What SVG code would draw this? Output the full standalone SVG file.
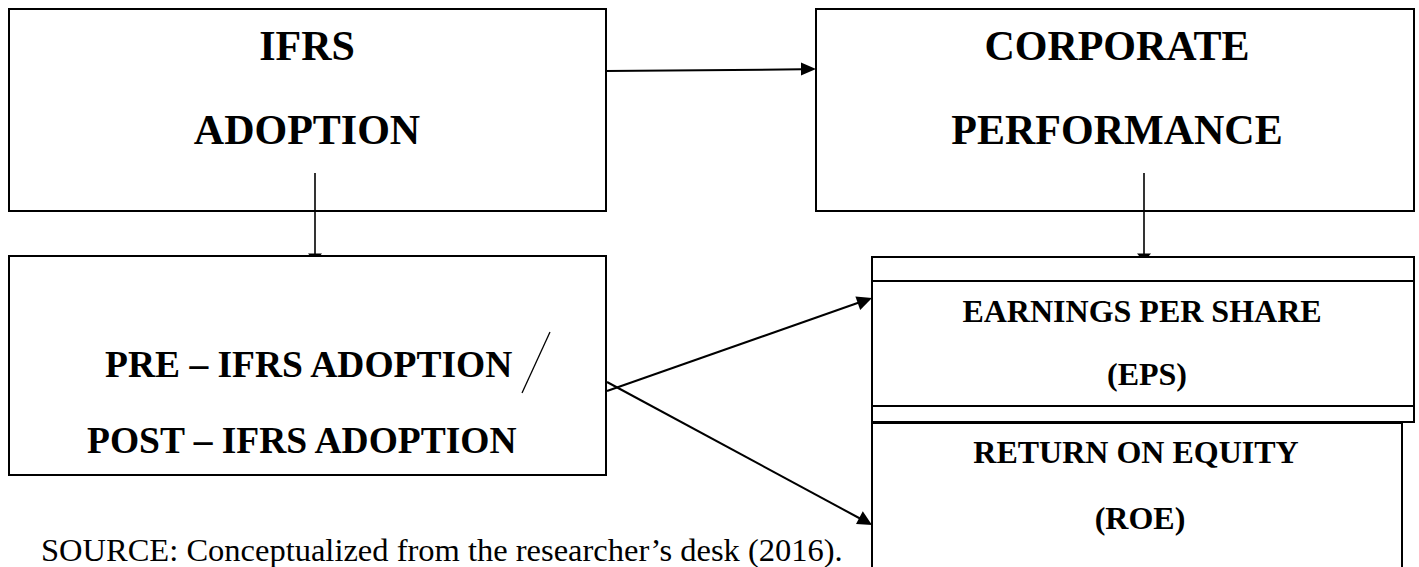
<svg xmlns="http://www.w3.org/2000/svg" width="1419" height="567" viewBox="0 0 1419 567">
<defs>
<style>
.box{fill:#fff;stroke:#000;stroke-width:2}
.edge{stroke:#000;stroke-width:2;fill:none}
.thin{stroke:#000;stroke-width:1.6;fill:none}
.head{fill:#000;stroke:none}
.t42{font-family:"Liberation Serif","Times New Roman",serif;font-weight:bold;font-size:42px;text-anchor:middle;fill:#000}
.t38{font-family:"Liberation Serif","Times New Roman",serif;font-weight:bold;font-size:37.5px;fill:#000}
.t32{font-family:"Liberation Serif","Times New Roman",serif;font-weight:bold;font-size:32px;text-anchor:middle;fill:#000}
.src{font-family:"Liberation Serif","Times New Roman",serif;font-size:32.5px;fill:#000}
</style>
</defs>
<rect width="1419" height="567" fill="#fff"/>
<g id="ifrs-adoption">
<rect class="box" x="9" y="9" width="597" height="202"/>
<text class="t42" x="307" y="60">IFRS</text>
<text class="t42" x="307" y="144">ADOPTION</text>
</g>
<g id="corporate-performance">
<rect class="box" x="816" y="9" width="598" height="202"/>
<text class="t42" x="1117" y="60">CORPORATE</text>
<text class="t42" x="1117" y="144">PERFORMANCE</text>
</g>
<g id="pre-post">
<rect class="box" x="9" y="256" width="597" height="219"/>
<text class="t38" x="105" y="377">PRE – IFRS ADOPTION</text>
<line x1="550" y1="332" x2="522" y2="393" stroke="#000" stroke-width="1.3"/>
<text class="t38" x="87" y="453">POST – IFRS ADOPTION</text>
</g>
<g id="eps">
<rect class="box" x="872" y="257" width="542" height="165"/>
<line class="edge" x1="872" y1="281" x2="1414" y2="281"/>
<line class="edge" x1="872" y1="406" x2="1414" y2="406"/>
<text class="t32" x="1142" y="322">EARNINGS PER SHARE</text>
<text class="t32" x="1147" y="385">(EPS)</text>
</g>
<g id="roe">
<path class="edge" d="M872,575 V423 H1402 V575"/>
<text class="t32" x="1136" y="463">RETURN ON EQUITY</text>
<text class="t32" x="1140" y="529">(ROE)</text>
</g>
<g id="source">
<text class="src" x="41" y="561">SOURCE: Conceptualized from the researcher’s desk (2016).</text>
</g>
<g id="connectors">
<line class="edge" x1="606" y1="71" x2="802" y2="69.3"/>
<polygon class="head" points="816,69 801,62.5 801,75.5"/>
<line class="thin" x1="315" y1="173" x2="315" y2="255"/>
<polygon class="head" points="308,253.5 322,253.5 319,257 311,257"/>
<line class="thin" x1="1144" y1="173" x2="1144" y2="256"/>
<polygon class="head" points="1137,253.5 1151,253.5 1148,257 1140,257"/>
<line class="edge" x1="607" y1="391" x2="859" y2="302.5"/>
<polygon class="head" points="872,298 855.4,296.5 860.2,310.1"/>
<line class="edge" x1="607" y1="382" x2="860" y2="518.5"/>
<polygon class="head" points="872,525 862.8,511.2 856,523.9"/>
</g>
</svg>
